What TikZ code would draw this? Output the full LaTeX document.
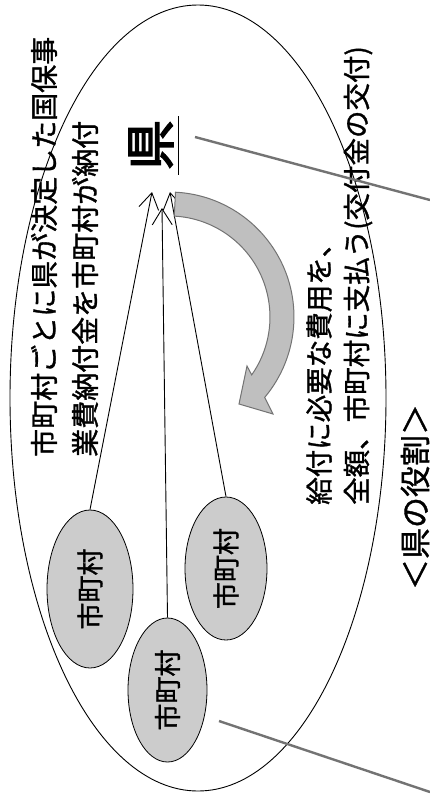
\documentclass[tikz,border=0pt]{standalone}
\usepackage{fontspec}
\usepackage{graphicx}
\usetikzlibrary{arrows.meta,shapes.geometric,calc}
\newfontfamily\jp[FakeBold=1.2]{Noto Sans CJK JP}
\newfontfamily\jpb[FakeBold=3]{Noto Sans CJK JP}
\begin{document}
\begin{tikzpicture}[x=1pt,y=-1pt,
  lt/.style={rotate=90, inner sep=0, anchor=west, font=\jp\fontsize{28pt}{34pt}\selectfont},
  rt/.style={rotate=90, inner sep=0, anchor=west, font=\jp\fontsize{27.5pt}{32pt}\selectfont},
  mura/.style={ellipse, draw=black, line width=0.8pt, fill=black!20, inner sep=0},
  mtext/.style={rotate=90, inner sep=0, font=\jp\fontsize{27pt}{32pt}\selectfont},
  conn/.style={line width=0.9pt, -{Straight Barb[length=16pt,width=20pt,line width=0.9pt]}},
  callout/.style={draw=black!55, line width=2.4pt},
  bigarrow/.style={fill=black!25, draw=black!55, line width=1pt}]
\useasboundingbox (0,0) rectangle (430,803);
\fill[white] (0,0) rectangle (430,803);

% big ellipse (prefecture)
\node[ellipse, draw=black, line width=0.9pt, inner sep=0,
      minimum width=376pt, minimum height=786pt] (pref) at (198,398) {};

% texts
\node[lt] (l1) at (44,457) {市町村ごとに県が決定した国保事};
\node[lt] (l2) at (85,457) {業費納付金を市町村が納付};
\node[rt] (r1) at (319,505) {給付に必要な費用を、};
\node[rt] (r2) at (358,505) {全額、市町村に支払う(交付金の交付)};
\node[rotate=90, inner sep=0, font=\jp\fontsize{31pt}{36pt}\selectfont] (role) at (415,497) {＜県の役割＞};

% ken
\node[rotate=90, inner sep=0, font=\jpb\fontsize{50pt}{56pt}\selectfont] (ken) at (151,145) {県};
\coordinate (u1) at (178,116);
\coordinate (u2) at (178,175);
\draw[line width=1pt] (u1) -- (u2);

% municipalities
\node[mura, minimum width=86pt, minimum height=158pt] (e1) at (90,589) {};
\node[mura, minimum width=79pt, minimum height=144pt] (e2) at (167.5,690) {};
\node[mura, minimum width=82pt, minimum height=143pt] (e3) at (226,568.5) {};
\node[mtext] (t1) at (e1.center) {市町村};
\node[mtext] (t2) at (e2.center) {市町村};
\node[mtext] (t3) at (e3.center) {市町村};

% arrows to ken
\coordinate (a1) at (152,192);
\coordinate (a2) at (162,208);
\coordinate (a3) at (170,192);
\draw[conn] (e1.north) -- (a1);
\draw[conn] (e2.north) -- (a2);
\draw[conn] (e3.north) -- (a3);

% curved gray arrow
\path[bigarrow] (175.5,192.2) arc[start angle=-87, end angle=40, radius=125]
  -- (273,414) -- (239,404) -- (247,366) -- (251.7,374.9)
  arc[start angle=35, end angle=-87, radius=101] -- cycle;

% callout lines
\coordinate (c1s) at (195,137);
\coordinate (c1e) at (430,200);
\coordinate (c2s) at (219,721);
\coordinate (c2e) at (430,792);
\draw[callout] (c1s) -- (c1e);
\draw[callout] (c2s) -- (c2e);
\end{tikzpicture}
\end{document}
